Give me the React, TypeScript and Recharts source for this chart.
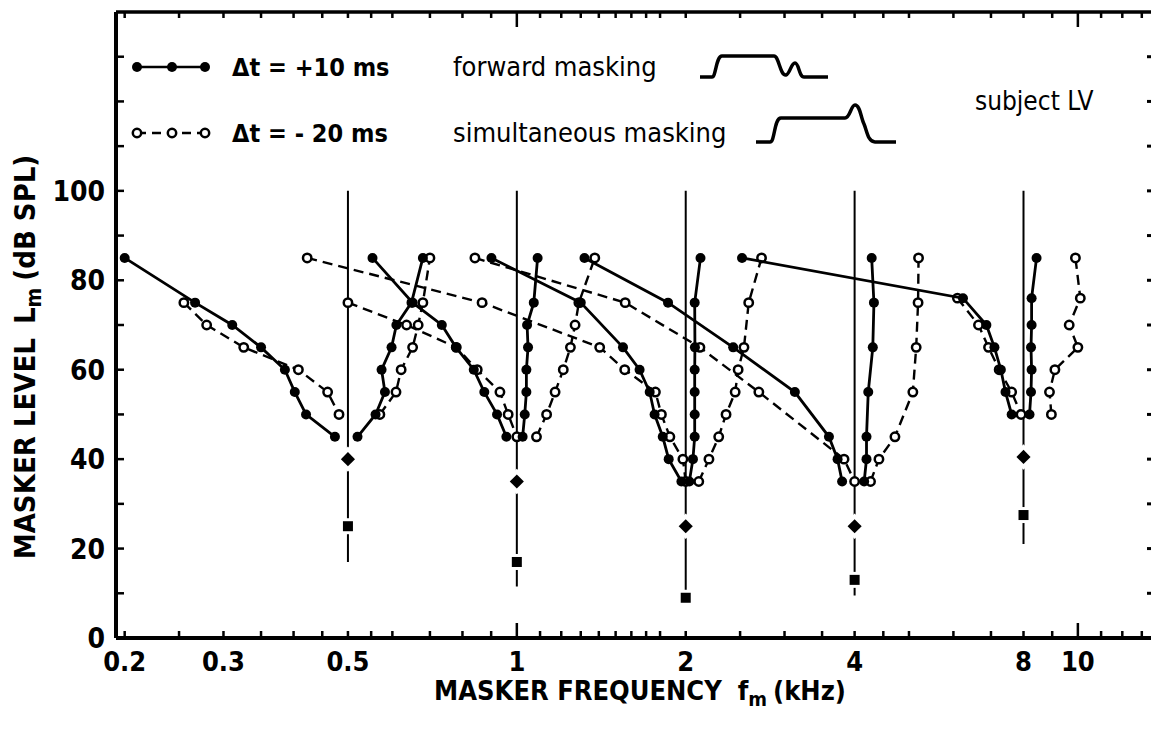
import React from "react";
import { ScatterChart, Scatter, XAxis, YAxis, ReferenceLine, Legend } from "recharts";

const FONT = "'DejaVu Sans Condensed', 'DejaVu Sans', sans-serif";

// probe frequencies (kHz) and the levels marked on each probe line (dB SPL)
const probeFreqs = [0.5, 1, 2, 4, 8];
const probeLineTop = [100, 100, 100, 100, 100];
const probeLineBottom = [17, 11.5, 8.5, 9.5, 21];
const probeDiamond = [40, 35, 25, 25, 40.5];
const probeSquare = [25, 17, 9, 13, 27.5];

// forward masking, dt = +10 ms   [kHz, dB SPL]
const fwd05Low = [[0.2, 85], [0.267, 75], [0.311, 70], [0.35, 65], [0.386, 60], [0.402, 55], [0.421, 50], [0.474, 45]];
const fwd05High = [[0.52, 45], [0.56, 50], [0.582, 55], [0.574, 60], [0.598, 65], [0.61, 70], [0.649, 75], [0.68, 85]];
const fwd1Low = [[0.553, 85], [0.652, 75], [0.735, 70], [0.779, 65], [0.838, 60], [0.875, 55], [0.922, 50], [0.958, 45]];
const fwd1High = [[1.024, 45], [1.033, 50], [1.04, 55], [1.04, 60], [1.047, 65], [1.043, 70], [1.072, 75], [1.089, 85]];
const fwd2Low = [[0.901, 85], [1.3, 75], [1.546, 65], [1.655, 60], [1.725, 55], [1.76, 50], [1.82, 45], [1.865, 40], [1.965, 35]];
const fwd2High = [[2.03, 35], [2.06, 40], [2.075, 45], [2.075, 50], [2.075, 55], [2.075, 60], [2.077, 65], [2.075, 75], [2.125, 85]];
const fwd4Low = [[1.32, 85], [1.86, 75], [2.43, 65], [3.13, 55], [3.6, 45], [3.73, 40], [3.8, 35]];
const fwd4High = [[4.16, 35], [4.2, 40], [4.2, 45], [4.23, 55], [4.31, 65], [4.33, 75], [4.29, 85]];
const fwd8Low = [[2.52, 85], [6.24, 76], [6.87, 70], [7.1, 65], [7.29, 60], [7.43, 55], [7.62, 50]];
const fwd8High = [[8.2, 50], [8.25, 55], [8.27, 60], [8.25, 65], [8.27, 70], [8.27, 76], [8.44, 85]];

// simultaneous masking, dt = -20 ms
const sim05Low = [[0.255, 75], [0.28, 70], [0.326, 65], [0.408, 60], [0.46, 55], [0.482, 50]];
const sim05High = [[0.57, 50], [0.609, 55], [0.622, 60], [0.652, 65], [0.667, 70], [0.68, 75], [0.7, 85]];
const sim1Low = [[0.5, 75], [0.636, 70], [0.78, 65], [0.85, 60], [0.933, 55], [0.965, 50], [1.0, 45]];
const sim1High = [[1.084, 45], [1.13, 50], [1.17, 55], [1.21, 60], [1.246, 65], [1.27, 70], [1.29, 75], [1.377, 85]];
const sim2Low = [[0.423, 85], [0.867, 75], [1.405, 65], [1.557, 60], [1.766, 55], [1.81, 50], [1.874, 45], [1.977, 40], [2.0, 35]];
const sim2High = [[2.11, 35], [2.2, 40], [2.29, 45], [2.36, 50], [2.45, 55], [2.48, 60], [2.54, 65], [2.59, 75], [2.73, 85]];
const sim4Low = [[0.842, 85], [1.56, 75], [2.12, 65], [2.7, 55], [3.83, 40], [4.0, 35]];
const sim4High = [[4.27, 35], [4.42, 40], [4.72, 45], [5.08, 55], [5.15, 65], [5.19, 75], [5.2, 85]];
const sim8Low = [[6.1, 76], [6.65, 70], [6.93, 65], [7.24, 60], [7.62, 55], [7.92, 50]];
const sim8High = [[8.97, 50], [8.9, 55], [9.1, 60], [10.0, 65], [9.65, 70], [10.1, 76], [9.9, 85]];

const xTicks = [0.2, 0.25, 0.3, 0.35, 0.4, 0.45, 0.5, 0.55, 0.6, 0.7, 0.8, 0.9, 1, 1.1, 1.2, 1.3, 1.4, 1.5, 1.6, 1.7, 1.8, 2, 2.5, 3, 3.5, 4, 4.5, 5, 6, 7, 8, 9, 10, 11, 12, 13];
const xLabelVals = [0.2, 0.3, 0.5, 1, 2, 4, 8, 10];
const yTicks = [0, 10, 20, 30, 40, 50, 60, 70, 80, 90, 100, 110, 120, 130];
const yLabelVals = [0, 20, 40, 60, 80, 100];

const fwdCurves = [fwd05Low, fwd05High, fwd1Low, fwd1High, fwd2Low, fwd2High, fwd4Low, fwd4High, fwd8Low, fwd8High];
const simCurves = [sim05Low, sim05High, sim1Low, sim1High, sim2Low, sim2High, sim4Low, sim4High, sim8Low, sim8High];

const pts = (a: number[][]) => a.map(([f, l]) => ({ f, l }));
const diamondPts = probeFreqs.map((f, i) => ({ f, l: probeDiamond[i] }));
const squarePts = probeFreqs.map((f, i) => ({ f, l: probeSquare[i] }));

const Filled = (p: any) => <circle cx={p.cx} cy={p.cy} r={5} fill="#000" />;
const Open = (p: any) => <circle cx={p.cx} cy={p.cy} r={4.2} fill="#fff" stroke="#000" strokeWidth={2.5} />;
const Nothing = () => null;
const Diamond = (p: any) => (
  <g>
    <rect x={p.cx - 9} y={p.cy - 9} width={18} height={18} fill="#fff" transform={`rotate(45 ${p.cx} ${p.cy})`} />
    <rect x={p.cx - 5} y={p.cy - 5} width={10} height={10} fill="#000" transform={`rotate(45 ${p.cx} ${p.cy})`} />
  </g>
);
const Square = (p: any) => (
  <g>
    <rect x={p.cx - 7} y={p.cy - 8} width={14} height={16} fill="#fff" />
    <rect x={p.cx - 5} y={p.cy - 5} width={10} height={10} fill="#000" />
  </g>
);

function BottomTick({ x, y, payload }: any) {
  const v = payload.value;
  const len = v === 1 || v === 10 ? 15 : 7;
  return (
    <g>
      <line x1={x} x2={x} y1={y} y2={y - len} stroke="#000" strokeWidth={2.5} />
      {xLabelVals.includes(v) && (
        <text x={x} y={y + 33} textAnchor="middle" fontFamily={FONT} fontWeight="bold" fontSize={27} fill="#000">
          {String(v)}
        </text>
      )}
    </g>
  );
}

function TopTick({ x, y, payload }: any) {
  const v = payload.value;
  const len = v === 1 || v === 10 ? 15 : 6;
  return <line x1={x} x2={x} y1={y} y2={y + len} stroke="#000" strokeWidth={2.5} />;
}

function LeftTick({ x, y, payload }: any) {
  const v = payload.value;
  return (
    <g>
      <line x1={x} x2={x + 8} y1={y} y2={y} stroke="#000" strokeWidth={2.5} />
      {yLabelVals.includes(v) && (
        <text x={x - 11} y={y + 10} textAnchor="end" fontFamily={FONT} fontWeight="bold" fontSize={28} fill="#000">
          {String(v)}
        </text>
      )}
    </g>
  );
}

function RightTick({ x, y }: any) {
  return <line x1={x} x2={x - 4} y1={y} y2={y} stroke="#000" strokeWidth={3} />;
}

function YTitle() {
  return (
    <text transform="translate(35,357) rotate(-90)" textAnchor="middle" fontFamily={FONT} fontWeight="bold" fontSize={29} fill="#000">
      MASKER LEVEL
      <tspan dx={14}>L</tspan>
      <tspan dy={6} fontSize={21}>m</tspan>
      <tspan dy={-6} dx={7}>(dB SPL)</tspan>
    </text>
  );
}

function XTitle() {
  return (
    <text x={640} y={700} textAnchor="middle" fontFamily={FONT} fontWeight="bold" fontSize={27} fill="#000">
      MASKER FREQUENCY
      <tspan dx={16}>f</tspan>
      <tspan dy={6} fontSize={20}>m</tspan>
      <tspan dy={-6} dx={6}>(kHz)</tspan>
    </text>
  );
}

function KeyBox() {
  const t = { fontFamily: FONT, fill: "#000" } as const;
  return (
    <svg width={1152} height={731} style={{ position: "absolute", left: 0, top: 0 }}>
      <line x1={137} x2={205} y1={67} y2={67} stroke="#000" strokeWidth={2.5} />
      {[137, 172, 205].map((x) => (
        <circle key={x} cx={x} cy={67} r={5} fill="#000" />
      ))}
      <line x1={137} x2={205} y1={133} y2={133} stroke="#000" strokeWidth={2.4} strokeDasharray="9 6" />
      {[137, 172, 205].map((x) => (
        <circle key={x} cx={x} cy={133} r={4.2} fill="#fff" stroke="#000" strokeWidth={2.5} />
      ))}
      <text x={232} y={76} fontSize={25} fontWeight="bold" {...t}>Δt = +10 ms</text>
      <text x={232} y={142} fontSize={25} fontWeight="bold" {...t}>Δt = - 20 ms</text>
      <text x={453} y={76} fontSize={27} {...t}>forward masking</text>
      <text x={453} y={142} fontSize={27} {...t}>simultaneous masking</text>
      <text x={975} y={110} fontSize={26} {...t}>subject LV</text>
      <path d="M700,77 L712,77 C716,77 716,56 722,56 L774,56 C779,56 780,76 786,75 C790,74 791,63 795,63 C799,63 799,77 804,77 L828,77" fill="none" stroke="#000" strokeWidth={3.5} />
      <path d="M756,142 L770,142 C775,142 774,118 781,118 L845,118 C850,118 851,105 855,105 C860,105 861,118 864,124 C867,131 868,142 875,142 L896,142" fill="none" stroke="#000" strokeWidth={3.5} />
    </svg>
  );
}

export default function App() {
  return (
    <div style={{ position: "absolute", left: 0, top: 0, width: 1152, height: 731, background: "#fff" }}>
      <ScatterChart width={1152} height={731} margin={{ top: 11, right: 0, bottom: 0, left: 0 }}>
        <XAxis
          dataKey="f"
          type="number"
          scale="log"
          domain={[0.193, 13.5]}
          allowDataOverflow
          ticks={xTicks}
          interval={0}
          height={93}
          tickSize={0}
          tickMargin={0}
          tickLine={false}
          axisLine={{ stroke: "#000", strokeWidth: 4 }}
          tick={<BottomTick />}
          label={<XTitle />}
        />
        <XAxis
          xAxisId="t"
          dataKey="f"
          orientation="top"
          type="number"
          scale="log"
          domain={[0.193, 13.5]}
          allowDataOverflow
          ticks={xTicks}
          interval={0}
          height={1}
          tickSize={0}
          tickMargin={0}
          tickLine={false}
          axisLine={{ stroke: "#000", strokeWidth: 3.5 }}
          tick={<TopTick />}
        />
        <YAxis
          dataKey="l"
          type="number"
          domain={[0, 140]}
          ticks={yTicks}
          interval={0}
          width={116}
          tickSize={0}
          tickMargin={0}
          tickLine={false}
          axisLine={{ stroke: "#000", strokeWidth: 4 }}
          tick={<LeftTick />}
          label={<YTitle />}
        />
        <YAxis
          yAxisId="r"
          dataKey="l"
          orientation="right"
          type="number"
          domain={[0, 140]}
          ticks={yTicks}
          interval={0}
          width={1}
          tickSize={0}
          tickMargin={0}
          tickLine={false}
          axisLine={false}
          tick={<RightTick />}
        />
        <Legend verticalAlign="middle" align="center" layout="horizontal" content={() => <KeyBox />} wrapperStyle={{ left: 0, top: 0, width: 1152, height: 731 }} />
        {probeFreqs.map((f, i) => (
          <ReferenceLine
            key={"p" + f}
            segment={[{ x: f, y: probeLineTop[i] }, { x: f, y: probeLineBottom[i] }]}
            stroke="#000"
            strokeWidth={2}
            ifOverflow="visible"
          />
        ))}
        {simCurves.map((c, i) => (
          <Scatter
            key={"s" + i}
            data={pts(c)}
            isAnimationActive={false}
            line={{ stroke: "#000", strokeWidth: 2.4, strokeDasharray: "10 6" }}
            lineType="joint"
            shape={<Open />}
            legendType="none"
          />
        ))}
        {fwdCurves.map((c, i) => (
          <Scatter
            key={"f" + i}
            data={pts(c)}
            isAnimationActive={false}
            line={{ stroke: "#000", strokeWidth: 2.8 }}
            lineType="joint"
            shape={<Filled />}
            legendType="none"
          />
        ))}
        <Scatter data={diamondPts} isAnimationActive={false} shape={<Diamond />} legendType="none" />
        <Scatter data={squarePts} isAnimationActive={false} shape={<Square />} legendType="none" />
        {/* invisible series so the top and right frame axes get drawn */}
        <Scatter data={diamondPts} xAxisId="t" yAxisId="r" isAnimationActive={false} shape={<Nothing />} legendType="none" />
      </ScatterChart>
    </div>
  );
}
